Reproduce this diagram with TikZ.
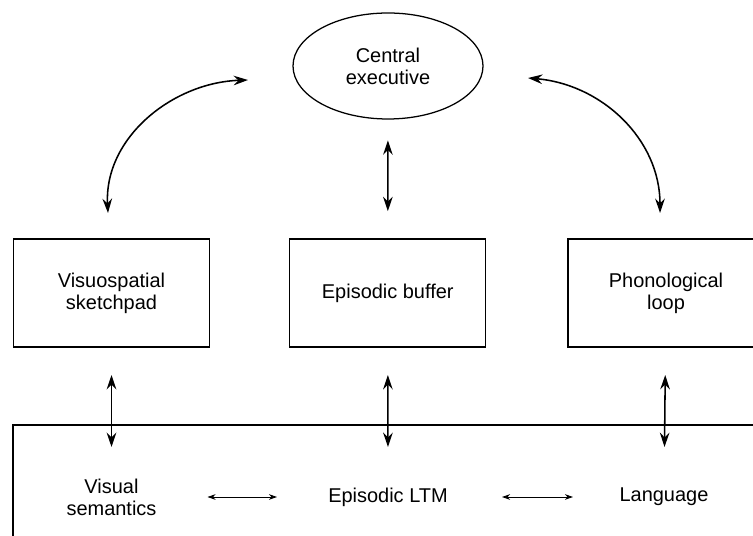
\documentclass[tikz,border=0pt]{standalone}
\usepackage{fontspec}
\setmainfont{Liberation Sans}
\usepackage{tikz}
\usetikzlibrary{shapes, arrows.meta, positioning}

\begin{document}
\begin{tikzpicture}[
        font=\fontsize{14.2}{15.5}\selectfont,
        module/.style={rectangle, minimum width=4.9cm, minimum height=2.7cm, text centered, align=center, draw=black, line width=0.9pt},
        exec/.style={ellipse, minimum width=4.75cm, minimum height=2.65cm, text centered, align=center, draw=black, line width=0.9pt},
        store/.style={align=center, inner sep=0pt},
        arrow/.style={line width=1.1pt, <->, >={Stealth[length=3.6mm, width=2.4mm, inset=1.2mm]}},
        link/.style={line width=0.7pt, <->, >={Stealth[length=2mm, width=1.4mm, inset=0.6mm]}}
        ]
        \useasboundingbox (0,0) rectangle (18.825,13.4);

        % long-term memory frame
        \draw[line width=0.9pt] (0.325,-1) |- (20,2.775);

        \node (ce) [exec] at (9.7,11.75) {Central\\executive};
        \node (vs) [module] at (2.7875,6.075) {Visuospatial\\sketchpad};
        \node (eb) [module, right=1.975cm of vs] {Episodic buffer};
        \node (pl) [module, right=2.025cm of eb] {Phonological\\loop};

        \node (vsem) [store] at (2.7875,0.975) {Visual\\semantics};
        \node (eltm) [store] at (9.7,0.975) {Episodic LTM};
        \node (lang) [store] at (16.6,0.975) {Language};

        \coordinate (ceW) at (6.2,11.4);
        \coordinate (ceE) at (13.2,11.45);
        \coordinate (vsN) at (2.7,8.075);
        \coordinate (plN) at (16.5,8.075);

        \draw [arrow] (ceW) to[out=182, in=93] (vsN);
        \draw [arrow] (ceE) to[out=-5, in=90] (plN);
        \draw [arrow, shorten <=0.52cm, shorten >=0.68cm] (ce) -- (eb);

        \draw [arrow, shorten <=2.05cm, shorten >=1.25cm] (vs.center) -- (vsem.center);
        \draw [arrow, shorten <=2.05cm, shorten >=1.25cm] (eb.center) -- (eltm.center);
        \draw [arrow, shorten <=2.05cm, shorten >=1.25cm] (pl.center) -- (lang.center);

        \draw [link, shorten <=2.775cm, shorten >=2.4cm] (eltm.center) -- (vsem.center);
        \draw [link, shorten <=2.85cm, shorten >=2.275cm] (eltm.center) -- (lang.center);

    \end{tikzpicture}
\end{document}
